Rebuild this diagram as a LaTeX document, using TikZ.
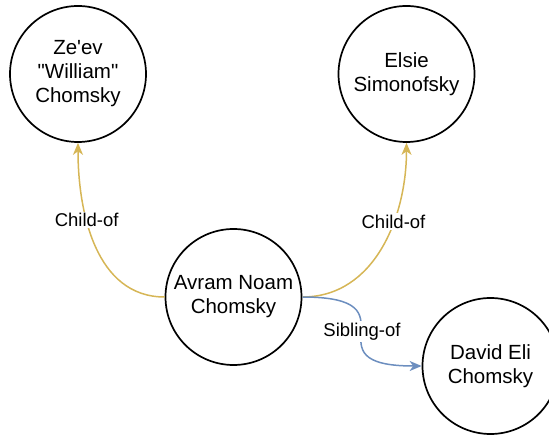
\documentclass[tikz,border=0pt]{standalone}
\usepackage{fontspec}
\setmainfont{Liberation Sans}[Ligatures=TeXOff]
\usetikzlibrary{arrows.meta}

\definecolor{childgold}{HTML}{D6B656}
\definecolor{siblingblue}{HTML}{6C8EBF}

\begin{document}
\begin{tikzpicture}[
  x=1pt, y=1pt,
  person/.style={circle, draw, line width=1.7pt, minimum size=136pt,
    inner sep=0pt, align=center, font=\fontsize{20.5}{24}\selectfont},
  rel/.style={line width=1.5pt, -{Stealth[length=12pt, width=10pt, inset=3.5pt]}},
  childof/.style={rel, color=childgold},
  siblingof/.style={rel, color=siblingblue},
  edgelabel/.style={fill=white, text=black, inner sep=1.5pt,
    font=\fontsize{18.5}{22}\selectfont}]

  \useasboundingbox (0,0) rectangle (549,436);

  % ---- the four people --------------------------------------------------
  \node[person] (zeev)  at (78,362)    {Ze'ev\\"William"\\Chomsky};
  \node[person] (elsie) at (406.5,362) {Elsie\\Simonofsky};
  \node[person] (avram) at (233.5,139) {Avram Noam\\Chomsky};
  \node[person] (david) at (490.5,70)  {David Eli\\Chomsky};

  % ---- parents: child-of, in gold ----------------------------------------
  \draw[childof] (avram.west) to[out=180, in=-90]
    node[edgelabel, pos=0.635] (lblzeev) {Child-of} (zeev.south);
  \draw[childof] (avram.east) to[out=0, in=-90]
    node[edgelabel, pos=0.635] (lblelsie) {Child-of} (elsie.south);

  % ---- brother: sibling-of, in blue --------------------------------------
  \draw[siblingof] (avram.east) to[out=0, in=180, looseness=2.2]
    node[edgelabel, pos=0.5] (lbldavid) {Sibling-of} (david.west);
\end{tikzpicture}
\end{document}
